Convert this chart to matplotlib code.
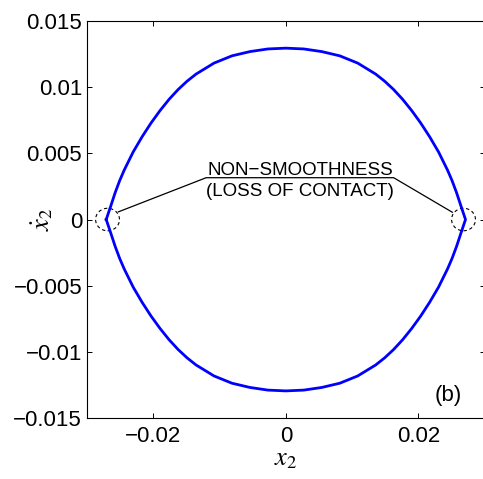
import matplotlib
matplotlib.use('Agg')
from matplotlib import pyplot as plt
from matplotlib.patches import Ellipse

plt.rcParams['font.family'] = ['Liberation Sans', 'DejaVu Sans']
plt.rcParams['mathtext.fontset'] = 'stix'

# Phase portrait: upper arc (left -> right), lower arc (right -> left)
upper_x = [-0.0271, -0.02642, -0.02575, -0.02507, -0.02439, -0.02304, -0.02168, -0.02033,
           -0.01897, -0.01762, -0.01626, -0.01491, -0.01355, -0.01084, -0.00813, -0.00542,
           -0.00271, 0.0, 0.00271, 0.00542, 0.00813, 0.01084, 0.01355, 0.01491, 0.01626,
           0.01762, 0.01897, 0.02033, 0.02168, 0.02304, 0.02439, 0.02507, 0.02575, 0.02642, 0.0271]
upper_y = [0.0, 0.00101, 0.00203, 0.00294, 0.00373, 0.00510, 0.00626, 0.00730,
           0.00824, 0.00908, 0.00982, 0.01045, 0.01099, 0.01182, 0.01237, 0.01269,
           0.01289, 0.01295, 0.01289, 0.01269, 0.01237, 0.01182, 0.01099, 0.01045, 0.00982,
           0.00908, 0.00824, 0.00730, 0.00626, 0.00510, 0.00373, 0.00294, 0.00203, 0.00101, 0.0]
lower_x = [0.0271, 0.02642, 0.02575, 0.02507, 0.02439, 0.02304, 0.02168, 0.02033,
           0.01897, 0.01762, 0.01626, 0.01491, 0.01355, 0.01084, 0.00813, 0.00542,
           0.00271, 0.0, -0.00271, -0.00542, -0.00813, -0.01084, -0.01355, -0.01491, -0.01626,
           -0.01762, -0.01897, -0.02033, -0.02168, -0.02304, -0.02439, -0.02507, -0.02575, -0.02642, -0.0271]
lower_y = [0.0, -0.00101, -0.00203, -0.00294, -0.00373, -0.00510, -0.00626, -0.00730,
           -0.00824, -0.00908, -0.00982, -0.01045, -0.01099, -0.01182, -0.01237, -0.01269,
           -0.01289, -0.01295, -0.01289, -0.01269, -0.01237, -0.01182, -0.01099, -0.01045, -0.00982,
           -0.00908, -0.00824, -0.00730, -0.00626, -0.00510, -0.00373, -0.00294, -0.00203, -0.00101, 0.0]

x_ticks = [-0.02, 0, 0.02]
x_ticklabels = ['\u22120.02', '0', '0.02']
y_ticks = [-0.015, -0.01, -0.005, 0, 0.005, 0.01, 0.015]
y_ticklabels = ['\u22120.015', '\u22120.01', '\u22120.005', '0', '0.005', '0.01', '0.015']

# annotation: circled points of non-smoothness and leader line
circle_x = [-0.0269, 0.0268]
leader_x = [-0.02526, -0.01202, 0.01626, 0.02511]
leader_y = [0.00058, 0.00316, 0.00316, 0.00055]

fig = plt.figure(figsize=(4.83, 4.79), dpi=100)
ax = fig.add_axes([0.1801, 0.1273, 0.8235, 0.8288])

ax.plot(upper_x + lower_x, upper_y + lower_y, color=(0, 0, 1), lw=2.0,
        solid_joinstyle='round')

for cx in circle_x:
    ax.add_patch(Ellipse((cx, 0), 0.0036, 0.0017, fill=False, edgecolor='black',
                         linestyle=(0, (3, 2.5)), lw=0.8))
ax.plot(leader_x, leader_y, color='black', lw=0.9)

ax.text(0.00212, 0.00333, 'NON\u2212SMOOTHNESS', ha='center', va='baseline', fontsize=13.5)
ax.text(0.00212, 0.00174, '(LOSS OF CONTACT)', ha='center', va='baseline', fontsize=13.5)
ax.text(0.02455, -0.01333, '(b)', ha='center', va='center', fontsize=16)

ax.set_xlim(-0.03, 0.03)
ax.set_ylim(-0.015, 0.015)
ax.set_xticks(x_ticks)
ax.set_xticklabels(x_ticklabels)
ax.set_yticks(y_ticks)
ax.set_yticklabels(y_ticklabels)
ax.tick_params(direction='in', length=3.5, width=0.7, labelsize=16, top=True, right=True)
ax.tick_params(axis='x', pad=6)
ax.tick_params(axis='y', pad=3.5)
for s in ax.spines.values():
    s.set_linewidth(0.8)
ax.spines['right'].set_visible(False)

ax.set_xlabel(r'$x_2$', fontsize=19, labelpad=0)
ax.set_ylabel(r'$\dot{x}_2$', fontsize=19)
ax.yaxis.set_label_coords(-0.081, 0.5)

plt.savefig('out.png', dpi=100)
